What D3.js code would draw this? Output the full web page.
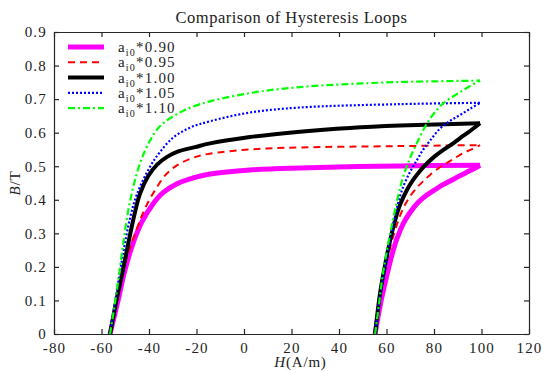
<!DOCTYPE html>
<html>
<head>
<meta charset="utf-8">
<script src="https://cdn.jsdelivr.net/npm/d3@7"></script>
<style>
  body { margin: 0; background: #fff; }
  text { font-family: "Liberation Serif", "Times New Roman", serif; fill: #222; }
</style>
</head>
<body>
<div id="chart"></div>
<script>
// axis ticks
const hTicks = [-80, -60, -40, -20, 0, 20, 40, 60, 80, 100, 120];
const bTicks = [0, 0.1, 0.2, 0.3, 0.4, 0.5, 0.6, 0.7, 0.8, 0.9];

// legend factors
const factors = ["0.90", "0.95", "1.00", "1.05", "1.10"];

// ai0*0.90
const upH090 = [-56.4, -53, -50.1, -46.7, -43, -38.7, -34.1, -28.2, -20.6, -14.3, 2.5, 23.6, 65.7, 99.4];
const upB090 = [0, 0.101, 0.191, 0.271, 0.334, 0.384, 0.421, 0.448, 0.467, 0.477, 0.489, 0.495, 0.501, 0.503];
const loH090 = [55.2, 57.7, 60.2, 62.3, 64.4, 67, 69.9, 73.3, 77, 80.4, 83.8, 87.6, 91, 95.2, 99.4];
const loB090 = [0, 0.098, 0.176, 0.236, 0.284, 0.328, 0.362, 0.392, 0.414, 0.430, 0.445, 0.459, 0.472, 0.487, 0.503];

// ai0*0.95
const upH095 = [-56.4, -53, -50.1, -46.7, -42.5, -39.6, -36.6, -33.3, -29, -22.7, -15.6, 2.5, 23.6, 65.7, 99.4];
const upB095 = [0, 0.116, 0.210, 0.283, 0.361, 0.403, 0.438, 0.472, 0.499, 0.522, 0.536, 0.550, 0.556, 0.560, 0.563];
const loH095 = [55.2, 57.3, 59.4, 61.5, 64, 67, 69.9, 72.8, 75.4, 78.3, 82.5, 85.5, 88.8, 92.2, 96, 99.4];
const loB095 = [0, 0.107, 0.191, 0.256, 0.318, 0.374, 0.410, 0.436, 0.455, 0.474, 0.497, 0.510, 0.524, 0.539, 0.551, 0.563];

// ai0*1.00
const upH100 = [-56.4, -53.7, -51, -48, -45.9, -43.8, -40.4, -36.6, -32.4, -28.2, -20.6, -14.3, 2.5, 23.6, 44.6, 65.7, 99.4];
const upB100 = [0, 0.101, 0.190, 0.295, 0.363, 0.418, 0.470, 0.505, 0.528, 0.543, 0.557, 0.568, 0.587, 0.603, 0.614, 0.621, 0.628];
const loH100 = [55.2, 57.3, 59.4, 61.5, 63.6, 65.7, 68.6, 71.2, 74.1, 77, 80.4, 83.8, 87.6, 91, 95.2, 99.4];
const loB100 = [0, 0.122, 0.206, 0.278, 0.338, 0.385, 0.429, 0.459, 0.486, 0.508, 0.530, 0.548, 0.566, 0.584, 0.605, 0.628];

// ai0*1.05
const upH105 = [-56.4, -53.5, -50.5, -48, -45, -39.6, -35.4, -29.9, -22.7, -14.3, 2.5, 23.6, 65.7, 99.4];
const upB105 = [0, 0.131, 0.255, 0.345, 0.418, 0.498, 0.542, 0.585, 0.615, 0.634, 0.660, 0.675, 0.685, 0.689];
const loH105 = [55.2, 56.8, 59, 61, 63.2, 64.8, 67, 69.9, 72.8, 75.4, 78.3, 82.5, 86.7, 91, 95.2, 99.4];
const loB105 = [0, 0.092, 0.182, 0.262, 0.334, 0.388, 0.438, 0.483, 0.518, 0.549, 0.576, 0.612, 0.635, 0.653, 0.671, 0.689];

// ai0*1.10
const upH110 = [-56.4, -53.5, -51, -48, -43.8, -39.6, -35.4, -29.1, -18.5, 2.5, 23.6, 44.6, 65.7, 99.4];
const upB110 = [0, 0.131, 0.262, 0.395, 0.508, 0.576, 0.619, 0.652, 0.685, 0.718, 0.736, 0.745, 0.751, 0.755];
const loH110 = [55.2, 56.8, 58.5, 60.6, 62.7, 64.8, 67, 69.9, 72.8, 77, 80.4, 83.8, 87.6, 91, 95.2, 99.4];
const loB110 = [0, 0.086, 0.180, 0.265, 0.340, 0.408, 0.468, 0.524, 0.569, 0.627, 0.661, 0.687, 0.706, 0.721, 0.739, 0.755];

const curves = [
  { up: [upH090, upB090], lo: [loH090, loB090], color: "#ff00ff", width: 5, dash: null },
  { up: [upH095, upB095], lo: [loH095, loB095], color: "#ff0000", width: 2, dash: "7,5" },
  { up: [upH100, upB100], lo: [loH100, loB100], color: "#000000", width: 4, dash: null },
  { up: [upH105, upB105], lo: [loH105, loB105], color: "#0000ff", width: 2.2, dash: "2,2" },
  { up: [upH110, upB110], lo: [loH110, loB110], color: "#00ff00", width: 2.2, dash: "7,3,2,3" }
];

const W = 545, H = 372;
const margin = { top: 32, right: 16, bottom: 38, left: 54 };
const width = W - margin.left - margin.right,
      height = H - margin.top - margin.bottom;

const svg = d3.select("#chart").append("svg")
  .attr("width", W).attr("height", H);

const g = svg.append("g")
  .attr("transform", `translate(${margin.left},${margin.top})`);

const x = d3.scaleLinear().domain([-80, 120]).range([0, width]);
const y = d3.scaleLinear().domain([0, 0.9]).range([height, 0]);

// curves
const line = d3.line()
  .x(d => x(d[0]))
  .y(d => y(d[1]))
  .curve(d3.curveCatmullRom.alpha(0.5));

curves.forEach(c => {
  [c.up, c.lo].forEach(br => {
    const pts = br[0].map((h, i) => [h, br[1][i]]);
    g.append("path")
      .datum(pts)
      .attr("d", line)
      .attr("fill", "none")
      .attr("stroke", c.color)
      .attr("stroke-width", c.width)
      .attr("stroke-dasharray", c.dash)
      .attr("stroke-linejoin", "miter");
  });
});

// axes (inward ticks, box)
const axisColor = "#262626";
const tickFont = g => g.selectAll("text")
  .style("font-size", "15px")
  .style("letter-spacing", "1.2px")
  .style("font-family", "'Liberation Serif', serif")
  .attr("fill", "#222");

g.append("g")
  .attr("transform", `translate(0,${height})`)
  .call(d3.axisBottom(x).tickValues(hTicks).tickFormat(d => String(d))
    .tickSizeInner(-5).tickSizeOuter(0).tickPadding(8))
  .call(tickFont);

g.append("g")
  .call(d3.axisLeft(y).tickValues(bTicks).tickFormat(d => d === 0 ? "0" : d.toFixed(1))
    .tickSizeInner(-5).tickSizeOuter(0).tickPadding(7))
  .call(tickFont);

g.append("g")
  .call(d3.axisTop(x).tickValues(hTicks).tickFormat("")
    .tickSizeInner(-5).tickSizeOuter(0));

g.append("g")
  .attr("transform", `translate(${width},0)`)
  .call(d3.axisRight(y).tickValues(bTicks).tickFormat("")
    .tickSizeInner(-5).tickSizeOuter(0));

g.selectAll(".domain, .tick line").attr("stroke", axisColor).attr("stroke-width", 1.2);

// title
svg.append("text")
  .attr("x", margin.left + width / 2)
  .attr("y", 23)
  .attr("text-anchor", "middle")
  .style("font-size", "16.5px")
  .style("letter-spacing", "0.5px")
  .text("Comparison of Hysteresis Loops");

// axis labels
const xl = svg.append("text")
  .attr("x", margin.left + width / 2 + 9)
  .attr("y", 367)
  .attr("text-anchor", "middle")
  .style("font-size", "15px")
  .style("letter-spacing", "0.8px");
xl.append("tspan").style("font-style", "italic").text("H");
xl.append("tspan").text("(A/m)");

const yl = svg.append("text")
  .attr("transform", `translate(20,183) rotate(-90)`)
  .attr("text-anchor", "middle")
  .style("font-size", "15px")
  .style("letter-spacing", "0.8px");
yl.append("tspan").style("font-style", "italic").text("B");
yl.append("tspan").text("/T");

// legend
const legend = g.append("g").attr("transform", "translate(14,15)");
factors.forEach((f, i) => {
  const c = curves[i];
  const row = legend.append("g").attr("transform", `translate(0,${i * 15.3})`);
  row.append("line")
    .attr("x1", 0).attr("x2", 36)
    .attr("stroke", c.color)
    .attr("stroke-width", c.width)
    .attr("stroke-dasharray", c.dash);
  const t = row.append("text")
    .attr("x", 50).attr("y", 5)
    .style("font-size", "15px")
    .style("letter-spacing", "1.2px");
  t.append("tspan").text("a");
  t.append("tspan").attr("dy", 4).style("font-size", "10px").text("i0");
  t.append("tspan").attr("dy", -4).text("*" + f);
});
</script>
</body>
</html>
